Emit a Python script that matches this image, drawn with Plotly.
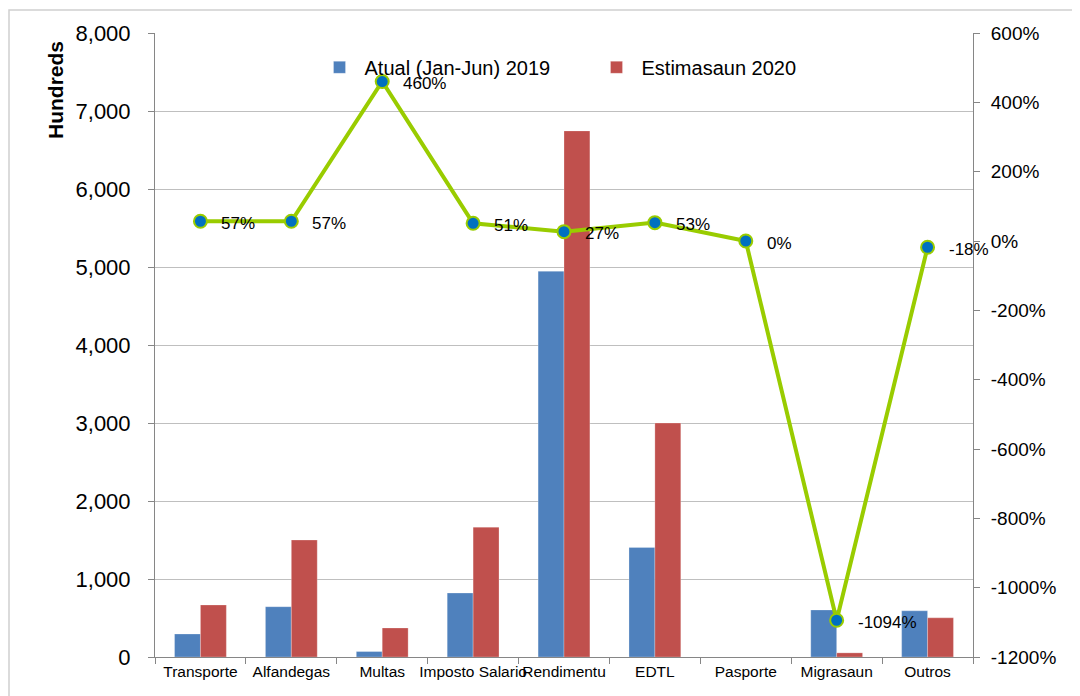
import plotly.graph_objects as go

categories = ["Transporte", "Alfandegas", "Multas", "Imposto Salario", "Rendimentu",
              "EDTL", "Pasporte", "Migrasaun", "Outros"]
atual_2019 = [295, 645, 70, 820, 4945, 1405, 0, 603, 592]
estimasaun_2020 = [667, 1500, 372, 1665, 6745, 3000, 0, 53, 502]
growth_pct = [57, 57, 460, 51, 27, 53, 0, -1094, -18]
growth_labels = ["57%", "57%", "460%", "51%", "27%", "53%", "0%", "-1094%", "-18%"]

left_ticks = [0, 1000, 2000, 3000, 4000, 5000, 6000, 7000, 8000]
right_tickvals = [-1200, -1000, -800, -600, -400, -200, 0, 200, 400, 600]
right_ticktext = ["-1200%", "-1000%", "-800%", "-600%", "-400%", "-200%", "0%", "200%", "400%", "600%"]

FONT = "Liberation Sans, Arial, sans-serif"
AXIS_GRAY = "#868686"

fig = go.Figure()
fig.add_trace(go.Bar(
    x=categories, y=atual_2019, name="Atual (Jan-Jun) 2019",
    marker=dict(color="#4f81bd", line=dict(color="rgba(255,255,255,0.5)", width=0.5)),
))
fig.add_trace(go.Bar(
    x=categories, y=estimasaun_2020, name="Estimasaun 2020",
    marker=dict(color="#c0504d", line=dict(color="rgba(255,255,255,0.5)", width=0.5)),
))
fig.add_trace(go.Scatter(
    x=categories, y=growth_pct, yaxis="y2", mode="lines+markers",
    line=dict(color="#99cc00", width=4),
    marker=dict(color="#0070c0", size=13, line=dict(color="#99cc00", width=2)),
    showlegend=False,
))

annotations = [
    dict(x=c, y=v, xref="x", yref="y2", text=t, showarrow=False,
         xanchor="left", yanchor="middle", xshift=19, yshift=-2,
         font=dict(family=FONT, size=17, color="#000000"))
    for c, v, t in zip(categories, growth_pct, growth_labels)
]
annotations.append(dict(
    x=(55 - 155) / 818, y=(657 - 90) / 624, xref="paper", yref="paper",
    text="<b>Hundreds</b>", textangle=-90, showarrow=False,
    xanchor="center", yanchor="middle", font=dict(family=FONT, size=21, color="#000000"),
))

fig.update_layout(
    width=1080, height=696,
    margin=dict(l=147, r=115, t=25, b=47),
    paper_bgcolor="white", plot_bgcolor="white",
    font=dict(family=FONT, color="#000000"),
    barmode="group", bargap=0.43, bargroupgap=0,
    legend=dict(
        orientation="h", x=0.195, y=0.945, xanchor="left", yanchor="middle",
        bgcolor="rgba(0,0,0,0)", font=dict(family=FONT, size=20),
        itemwidth=40, entrywidth=222, entrywidthmode="pixels",
    ),
    xaxis=dict(
        type="category", tickson="boundaries", ticks="outside", ticklen=6,
        tickcolor=AXIS_GRAY, showline=True, linecolor=AXIS_GRAY, linewidth=1,
        showgrid=False, tickfont=dict(family=FONT, size=15.5), tickangle=0,
        range=[-0.5, 8.5],
    ),
    yaxis=dict(
        range=[0, 8000], tickvals=left_ticks, tickformat=",d",
        ticks="outside", ticklen=6, tickcolor=AXIS_GRAY,
        showline=True, linecolor=AXIS_GRAY, linewidth=1,
        showgrid=True, gridcolor="#bfbfbf", gridwidth=1, zeroline=False,
        tickfont=dict(family=FONT, size=22), ticklabelstandoff=13,
    ),
    yaxis2=dict(
        overlaying="y", side="right", range=[-1200, 600],
        tickvals=right_tickvals, ticktext=right_ticktext,
        ticks="outside", ticklen=6, tickcolor=AXIS_GRAY,
        showline=True, linecolor=AXIS_GRAY, linewidth=1,
        showgrid=False, zeroline=False,
        tickfont=dict(family=FONT, size=19), ticklabelstandoff=7,
    ),
    annotations=annotations,
    shapes=[dict(
        type="rect", xref="paper", yref="paper",
        x0=(9 - 155) / 818, x1=(1100 - 155) / 818,
        y0=(657 - 720) / 624, y1=(657 - 10) / 624,
        line=dict(color="#d0d0d0", width=1.5), fillcolor="rgba(0,0,0,0)", layer="below",
    )],
)

fig.write_html("out.html")
